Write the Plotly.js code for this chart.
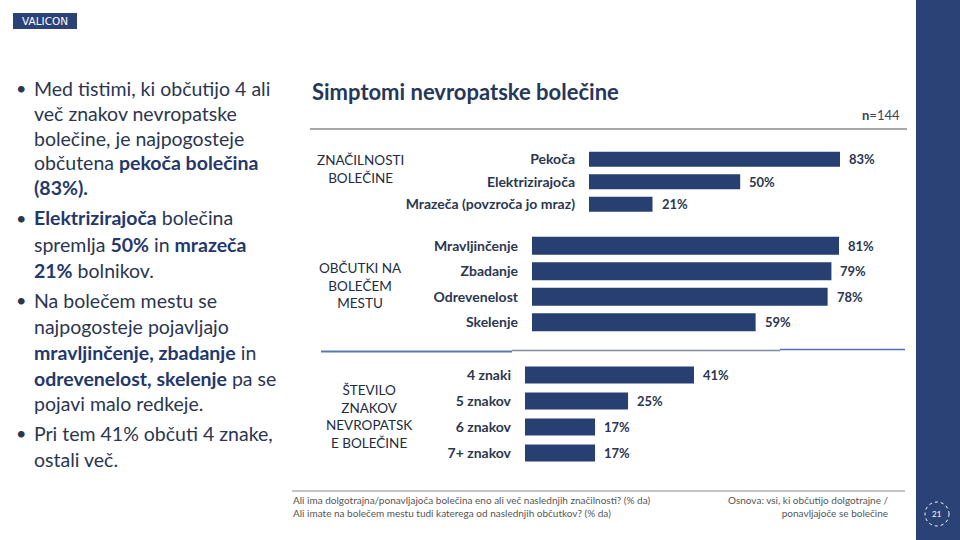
<!DOCTYPE html>
<html>
<head>
<meta charset="utf-8">
<script src="https://cdn.plot.ly/plotly-3.0.1.min.js"></script>
<style>
html, body { margin: 0; padding: 0; background: #fff; }
#chart { width: 960px; height: 540px; }
</style>
</head>
<body>
<div id="chart"></div>
<script>
// Data
var featureLabels = ['Pekoča', 'Elektrizirajoča', 'Mrazeča (povzroča jo mraz)'];
var featureValues = [83, 50, 21];
var sensationLabels = ['Mravljinčenje', 'Zbadanje', 'Odrevenelost', 'Skelenje'];
var sensationValues = [81, 79, 78, 59];
var countLabels = ['4 znaki', '5 znakov', '6 znakov', '7+ znakov'];
var countValues = [41, 25, 17, 17];
var groupTitles = ['ZNAČILNOSTI<br>BOLEČINE', 'OBČUTKI NA<br>BOLEČEM<br>MESTU', 'ŠTEVILO<br>ZNAKOV<br>NEVROPATSK<br>E BOLEČINE'];

var bulletLines = [
    '•', 'Med tistimi, ki občutijo 4 ali',
    '', 'več znakov nevropatske',
    '', 'bolečine, je najpogosteje',
    '', 'občutena <b>pekoča bolečina</b>',
    '', '<b>(83%).</b>',
    '•', '<b>Elektrizirajoča</b> bolečina',
    '', 'spremlja <b>50%</b> in <b>mrazeča</b>',
    '', '<b>21%</b> bolnikov.',
    '•', 'Na bolečem mestu se',
    '', 'najpogosteje pojavljajo',
    '', '<b>mravljinčenje, zbadanje</b> in',
    '', '<b>odrevenelost, skelenje</b> pa se',
    '', 'pojavi malo redkeje.',
    '•', 'Pri tem 41% občuti 4 znake,',
    '', 'ostali več.'
];
var bulletY = [88, 113, 138, 163, 188, 218, 244, 270, 300, 326, 352, 378, 403, 433, 459];

var navy = '#283f72';
var textDark = '#2b3650';
var font = 'Lato, "Open Sans", sans-serif';

function px(x) { return x / 960; }
function py(y) { return 1 - y / 540; }

var groups = [
    { labels: featureLabels, values: featureValues, xa: 'x', ya: 'y', width: 0.67 },
    { labels: sensationLabels, values: sensationValues, xa: 'x2', ya: 'y2', width: 0.7 },
    { labels: countLabels, values: countValues, xa: 'x3', ya: 'y3', width: 0.66 }
];

var data = groups.map(function (g) {
    return {
        type: 'bar',
        orientation: 'h',
        x: g.values,
        y: g.labels,
        xaxis: g.xa,
        yaxis: g.ya,
        width: g.width,
        marker: { color: navy },
        hoverinfo: 'none'
    };
});

var annotations = [];

// value labels
groups.forEach(function (g) {
    for (var i = 0; i < g.values.length; i++) {
        annotations.push({
            xref: g.xa, yref: g.ya,
            x: g.values[i], y: g.labels[i],
            text: '<b>' + g.values[i] + '%</b>',
            showarrow: false,
            xanchor: 'left', xshift: 7,
            font: { family: font, size: 13, color: textDark }
        });
    }
});

// group titles
var groupPos = [[360, 169], [360, 285], [369, 416]];
for (var k = 0; k < groupTitles.length; k++) {
    annotations.push({
        xref: 'paper', yref: 'paper',
        x: px(groupPos[k][0]), y: py(groupPos[k][1]),
        text: groupTitles[k], showarrow: false,
        xanchor: 'center', yanchor: 'middle', align: 'center',
        font: { family: font, size: 13.5, color: '#222b40' }
    });
}

// left bullet text
for (var j = 0; j < bulletY.length; j++) {
    if (bulletLines[2 * j]) {
        annotations.push({
            xref: 'paper', yref: 'paper', x: px(14), y: py(bulletY[j]),
            text: bulletLines[2 * j], showarrow: false,
            xanchor: 'left', yanchor: 'middle',
            font: { family: font, size: 18, color: textDark }
        });
    }
    annotations.push({
        xref: 'paper', yref: 'paper', x: px(32), y: py(bulletY[j]),
        text: bulletLines[2 * j + 1].replace(/<b>/g, '<b><span style="color:#24386b">').replace(/<\/b>/g, '</span></b>'),
        showarrow: false,
        xanchor: 'left', yanchor: 'middle',
        font: { family: font, size: 19.5, color: textDark }
    });
}

// title, n, logo, footers, page number
annotations.push(
    { xref: 'paper', yref: 'paper', x: px(310), y: py(91), text: '<b>Simptomi nevropatske bolečine</b>',
      showarrow: false, xanchor: 'left', yanchor: 'middle', font: { family: font, size: 22, color: '#263759' } },
    { xref: 'paper', yref: 'paper', x: px(902), y: py(115), text: '<b>n</b>=144',
      showarrow: false, xanchor: 'right', yanchor: 'middle', font: { family: font, size: 13, color: '#3b4255' } },
    { xref: 'paper', yref: 'paper', x: px(45), y: py(21), text: 'VALICON',
      showarrow: false, xanchor: 'center', yanchor: 'middle', font: { family: '"DejaVu Sans", sans-serif', size: 10.5, color: '#ffffff' } },
    { xref: 'paper', yref: 'paper', x: px(291), y: py(506),
      text: 'Ali ima dolgotrajna/ponavljajoča bolečina eno ali več naslednjih značilnosti? (% da)<br>Ali imate na bolečem mestu tudi katerega od naslednjih občutkov? (% da)',
      showarrow: false, xanchor: 'left', yanchor: 'middle', align: 'left',
      font: { family: font, size: 10, color: '#555555' } },
    { xref: 'paper', yref: 'paper', x: px(891), y: py(506),
      text: 'Osnova: vsi, ki občutijo dolgotrajne /<br>ponavljajoče se bolečine',
      showarrow: false, xanchor: 'right', yanchor: 'middle', align: 'right',
      font: { family: font, size: 10, color: '#555555' } },
    { xref: 'paper', yref: 'paper', x: px(937), y: py(514), text: '21',
      showarrow: false, xanchor: 'center', yanchor: 'middle', font: { family: font, size: 8, color: '#ffffff' } }
);

var shapes = [
    { type: 'rect', xref: 'paper', yref: 'paper', x0: px(916), x1: 1, y0: 0, y1: 1, fillcolor: '#2a4275', line: { width: 0 } },
    { type: 'rect', xref: 'paper', yref: 'paper', x0: px(13), x1: px(77), y0: py(29), y1: py(13), fillcolor: '#2a4275', line: { width: 0 } },
    { type: 'line', xref: 'paper', yref: 'paper', x0: px(310), x1: px(907), y0: py(129), y1: py(129), line: { color: '#8a8a8a', width: 1.5 } },
    { type: 'line', xref: 'paper', yref: 'paper', x0: px(321), x1: px(512), y0: py(351.5), y1: py(351.5), line: { color: '#5a78a8', width: 2 } },
    { type: 'line', xref: 'paper', yref: 'paper', x0: px(512), x1: px(780), y0: py(350.5), y1: py(350.5), line: { color: '#7f8aa0', width: 1.5 } },
    { type: 'line', xref: 'paper', yref: 'paper', x0: px(780), x1: px(905), y0: py(349.5), y1: py(349.5), line: { color: '#4f72b4', width: 1.5 } },
    { type: 'line', xref: 'paper', yref: 'paper', x0: px(292), x1: px(905), y0: py(491), y1: py(491), line: { color: '#8a8a8a', width: 1 } },
    { type: 'circle', xref: 'paper', yref: 'paper', x0: px(925), x1: px(949), y0: py(526), y1: py(502), line: { color: '#ffffff', width: 1, dash: 'dot' } }
];

function yAxis(domainTop, domainBottom, n, xa) {
    return {
        domain: [py(domainBottom), py(domainTop)],
        type: 'category',
        range: [n - 0.5, -0.5],
        anchor: xa,
        showgrid: false, zeroline: false, showline: false,
        ticks: '', ticklabelstandoff: 13,
        tickfont: { family: font, size: 14, color: textDark, weight: 'bold' },
        fixedrange: true
    };
}
function xAxis(left, right, max, ya) {
    return {
        domain: [px(left), px(right)],
        range: [0, max],
        anchor: ya,
        visible: false,
        fixedrange: true
    };
}

var layout = {
    width: 960,
    height: 540,
    margin: { l: 0, r: 0, t: 0, b: 0 },
    paper_bgcolor: '#ffffff',
    plot_bgcolor: 'rgba(0,0,0,0)',
    showlegend: false,
    font: { family: font },
    xaxis: xAxis(589, 840, featureValues[0], 'y'),
    yaxis: yAxis(148, 215.5, featureLabels.length, 'x'),
    xaxis2: xAxis(532, 839, sensationValues[0], 'y2'),
    yaxis2: yAxis(233, 335, sensationLabels.length, 'x2'),
    xaxis3: xAxis(525, 694, countValues[0], 'y3'),
    yaxis3: yAxis(362, 466, countLabels.length, 'x3'),
    annotations: annotations,
    shapes: shapes
};

Plotly.newPlot('chart', data, layout, { displayModeBar: false, staticPlot: true });
</script>
</body>
</html>
